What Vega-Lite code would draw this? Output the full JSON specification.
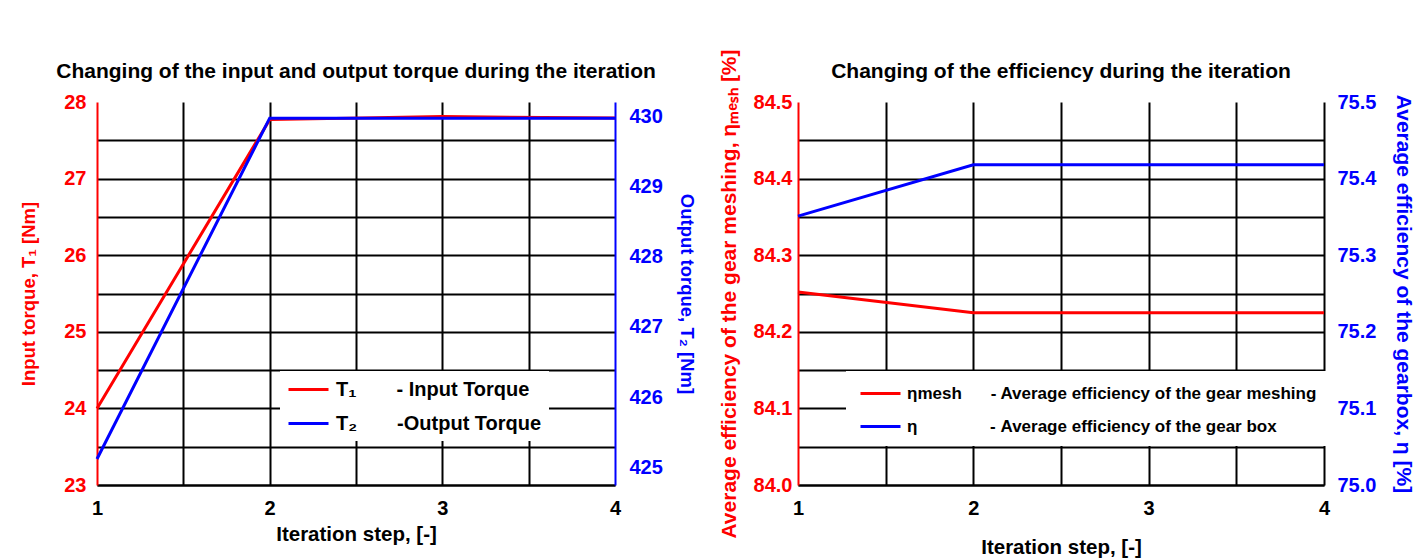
{
  "$schema": "https://vega.github.io/schema/vega-lite/v6.json",
  "background": "white",
  "padding": {"left": 19, "top": 48, "right": 5, "bottom": 5},
  "bounds": "flush",
  "spacing": 183,
  "config": {
    "view": {"stroke": null},
    "font": "Liberation Sans",
    "axis": {
      "labelFont": "Liberation Sans",
      "titleFont": "Liberation Sans",
      "labelFontWeight": "bold",
      "titleFontWeight": "bold",
      "ticks": false,
      "labelFlush": false,
      "labelOverlap": false,
      "titleFontSize": 18.5,
      "labelFontSize": 20
    },
    "title": {"font": "Liberation Sans", "fontWeight": "bold", "fontSize": 21, "color": "black", "anchor": "middle"},
    "legend": {"labelFont": "Liberation Sans", "labelFontWeight": "bold", "labelColor": "black"}
  },
  "resolve": {"scale": {"color": "independent", "x": "independent", "y": "independent"}, "legend": {"color": "independent"}},
  "hconcat": [
    {
      "width": 518,
      "height": 383,
      "title": {"text": "Changing of the input and output torque during the iteration", "offset": 10},
      "data": {"values": [
        {"step": 1, "T1": 24.0, "T2": 425.12},
        {"step": 2, "T1": 27.77, "T2": 429.97},
        {"step": 3, "T1": 27.81, "T2": 429.97},
        {"step": 4, "T1": 27.79, "T2": 429.97}
      ]},
      "encoding": {
        "x": {
          "field": "step", "type": "quantitative",
          "scale": {"domain": [1, 4], "nice": false, "zero": false},
          "axis": {
            "values": [1, 1.5, 2, 2.5, 3, 3.5, 4],
            "labelExpr": "datum.value % 1 === 0 ? format(datum.value, 'd') : ''",
            "grid": true, "gridColor": "black", "gridWidth": 2,
            "gridOpacity": {"condition": {"test": "datum.value <= 1 || datum.value >= 4", "value": 0}, "value": 1},
            "domainColor": "black", "domainWidth": 2,
            "labelColor": "black", "labelPadding": 13,
            "title": "Iteration step, [-]", "titleColor": "black", "titleFontSize": 20.5, "titlePadding": 6
          }
        }
      },
      "layer": [
        {
          "mark": {"type": "line", "strokeWidth": 3},
          "encoding": {
            "y": {
              "field": "T1", "type": "quantitative",
              "scale": {"domain": [23, 28], "nice": false, "zero": false},
              "axis": {
                "orient": "left",
                "values": [23, 23.5, 24, 24.5, 25, 25.5, 26, 26.5, 27, 27.5, 28],
                "labelExpr": "datum.value % 1 === 0 ? format(datum.value, 'd') : ''",
                "grid": true, "gridColor": "black", "gridWidth": 2,
                "gridOpacity": {"condition": {"test": "datum.value >= 28", "value": 0}, "value": 1},
                "domainColor": "#ff0000", "domainWidth": 2,
                "labelColor": "#ff0000", "labelPadding": 11,
                "title": "Input torque, T₁ [Nm]", "titleColor": "#ff0000", "titlePadding": 25
              }
            },
            "color": {
              "datum": "T1", "type": "nominal",
              "scale": {"domain": ["T1", "T2"], "range": ["#ff0000", "#0000ff"]},
              "legend": {
                "orient": "none", "legendX": 183, "legendY": 269, "direction": "vertical",
                "fillColor": "white", "padding": 7, "title": null,
                "symbolType": "M-1,0H3", "symbolSize": 400, "symbolStrokeWidth": 3,
                "labelFontSize": 20, "labelOffset": 26, "rowPadding": 12, "labelLimit": 0,
                "labelExpr": "datum.value == 'T1' ? 'T₁\u2003\u2003- Input Torque' : 'T₂\u2003\u2003-Output Torque\u2002'"
              }
            }
          }
        },
        {
          "mark": {"type": "line", "strokeWidth": 3},
          "encoding": {
            "y": {
              "field": "T2", "type": "quantitative",
              "scale": {"domain": [424.75, 430.2], "nice": false, "zero": false},
              "axis": {
                "orient": "right",
                "values": [425, 426, 427, 428, 429, 430],
                "format": "d",
                "grid": false,
                "domainColor": "#0000ff", "domainWidth": 2,
                "labelColor": "#0000ff", "labelPadding": 14,
                "title": "Output torque, T₂ [Nm]", "titleColor": "#0000ff", "titlePadding": 14
              }
            },
            "color": {"datum": "T2", "type": "nominal"}
          }
        }
      ],
      "resolve": {"scale": {"y": "independent"}}
    },
    {
      "width": 526,
      "height": 383,
      "title": {"text": "Changing of the efficiency during the iteration", "offset": -33},
      "data": {"values": [
        {"step": 1, "eta_mesh": 84.252, "eta": 75.351},
        {"step": 2, "eta_mesh": 84.225, "eta": 75.418},
        {"step": 3, "eta_mesh": 84.225, "eta": 75.418},
        {"step": 4, "eta_mesh": 84.225, "eta": 75.418}
      ]},
      "encoding": {
        "x": {
          "field": "step", "type": "quantitative",
          "scale": {"domain": [1, 4], "nice": false, "zero": false},
          "axis": {
            "values": [1, 1.5, 2, 2.5, 3, 3.5, 4],
            "labelExpr": "datum.value % 1 === 0 ? format(datum.value, 'd') : ''",
            "grid": true, "gridColor": "black", "gridWidth": 2,
            "gridOpacity": {"condition": {"test": "datum.value <= 1 || datum.value >= 4", "value": 0}, "value": 1},
            "domainColor": "black", "domainWidth": 2,
            "labelColor": "black", "labelPadding": 13,
            "title": "Iteration step, [-]", "titleColor": "black", "titleFontSize": 20.5, "titlePadding": 19
          }
        }
      },
      "layer": [
        {
          "mark": {"type": "line", "strokeWidth": 3},
          "encoding": {
            "y": {
              "field": "eta_mesh", "type": "quantitative",
              "scale": {"domain": [84.0, 84.5], "nice": false, "zero": false},
              "axis": {
                "orient": "left",
                "values": [84.0, 84.05, 84.1, 84.15, 84.2, 84.25, 84.3, 84.35, 84.4, 84.45, 84.5],
                "labelExpr": "abs(datum.value * 10 - round(datum.value * 10)) < 0.001 ? format(datum.value, '.1f') : ''",
                "grid": true, "gridColor": "black", "gridWidth": 2,
                "gridOpacity": {"condition": {"test": "datum.value >= 84.49", "value": 0}, "value": 1},
                "domainColor": "#ff0000", "domainWidth": 2,
                "labelColor": "#ff0000", "labelPadding": 6,
                "title": "Average efficiency of the gear meshing, ηₘₑₛₕ [%]", "titleColor": "#ff0000", "titleFontSize": 21, "titlePadding": 14
              }
            },
            "color": {
              "datum": "mesh", "type": "nominal",
              "scale": {"domain": ["mesh", "box"], "range": ["#ff0000", "#0000ff"]},
              "legend": {
                "orient": "none", "legendX": 48, "legendY": 269, "direction": "vertical",
                "fillColor": "white", "padding": 11, "title": null,
                "symbolType": "M-0.8,0H3.2", "symbolSize": 400, "symbolStrokeWidth": 3,
                "labelFontSize": 17, "labelOffset": 27, "rowPadding": 13, "labelLimit": 0,
                "labelExpr": "datum.value == 'mesh' ? 'ηmesh\u2003\u2002\u2009- Average efficiency of the gear meshing' : 'η\u2003\u2003\u2003\u2003 - Average efficiency of the gear box'"
              }
            }
          }
        },
        {
          "mark": {"type": "line", "strokeWidth": 3},
          "encoding": {
            "y": {
              "field": "eta", "type": "quantitative",
              "scale": {"domain": [75.0, 75.5], "nice": false, "zero": false},
              "axis": {
                "orient": "right",
                "values": [75.0, 75.1, 75.2, 75.3, 75.4, 75.5],
                "format": ".1f",
                "grid": false,
                "domainColor": "black", "domainWidth": 2,
                "labelColor": "#0000ff", "labelPadding": 13,
                "title": "Average efficiency of the gearbox, η [%]", "titleColor": "#0000ff", "titleFontSize": 21, "titlePadding": 17
              }
            },
            "color": {"datum": "box", "type": "nominal"}
          }
        }
      ],
      "resolve": {"scale": {"y": "independent"}}
    }
  ]
}
